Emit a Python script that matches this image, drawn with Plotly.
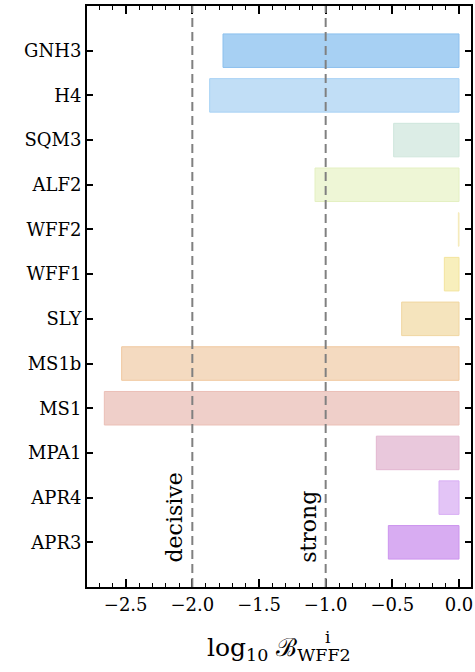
import plotly.graph_objects as go

# Equation-of-state models, listed bottom to top
models = ["APR3", "APR4", "MPA1", "MS1", "MS1b", "SLY",
          "WFF1", "WFF2", "ALF2", "SQM3", "H4", "GNH3"]
log_bayes = [-0.53, -0.15, -0.62, -2.66, -2.53, -0.43,
             -0.11, -0.005, -1.08, -0.49, -1.87, -1.77]
fills = ["#d8acf2", "#e3c4f6", "#e9c8dc", "#efcfc9", "#f4dac0", "#f5e4bd",
         "#f8efbc", "#fbf6d6", "#eef6d6", "#dcede6", "#c1def6", "#a7d0f3"]
edges = ["#cc94ee", "#d8aef4", "#e2b6d0", "#ebbfb6", "#f0c89e", "#f0d6a0",
         "#f3e49e", "#f5eab8", "#e4f0c2", "#cfe6dc", "#a8d2f5", "#8cc0ee"]

# Evidence thresholds (log10 Bayes factor)
thresholds = [-2.0, -1.0]
threshold_labels = ["decisive", "strong"]

FONT = "DejaVu Serif"
X_RANGE = [-2.79, 0.09]
Y_RANGE = [-1, 12]

fig = go.Figure()
fig.add_trace(go.Bar(
    x=log_bayes, y=list(range(len(models))), orientation="h",
    width=0.75,
    marker=dict(color=fills, line=dict(color=edges, width=1)),
    showlegend=False, hoverinfo="x+text", text=models, textposition="none",
))

for xv, lab in zip(thresholds, threshold_labels):
    fig.add_shape(type="line", x0=xv, x1=xv, y0=0, y1=1, yref="paper",
                  xref="x", line=dict(color="#808080", width=2, dash="9px,5px"),
                  layer="above")
    fig.add_annotation(x=xv, y=-0.5, xref="x", yref="y", text=lab,
                       textangle=-90, showarrow=False, xanchor="right",
                       yanchor="bottom", xshift=-3,
                       font=dict(family=FONT, size=22, color="black"))

# Axis label: log10 B with stacked superscript "i" and subscript "WFF2"
fig.add_annotation(x=0.5, y=0, xref="paper", yref="paper", yshift=-62,
                   text="log<sub>10</sub> \u212C<sub>WFF2</sub>", showarrow=False,
                   xanchor="center", yanchor="middle",
                   font=dict(family=FONT, size=25, color="black"))
fig.add_annotation(x=0.615, y=0, xref="paper", yref="paper", yshift=-50,
                   text="i", showarrow=False, xanchor="left", yanchor="middle",
                   font=dict(family=FONT, size=17, color="black"))

tick_font = dict(family=FONT, size=18, color="black")

fig.update_layout(
    width=475, height=672,
    margin=dict(l=87, r=2, t=6, b=85),
    plot_bgcolor="white", paper_bgcolor="white",
    xaxis=dict(
        range=X_RANGE, tickmode="linear", tick0=0, dtick=0.5, tickformat=".1f",
        ticks="inside", ticklen=8, tickwidth=1.5, tickcolor="#000000",
        showline=True, linecolor="black", linewidth=2, mirror="allticks",
        showgrid=False, zeroline=False, tickfont=tick_font,
        minor=dict(dtick=0.1, tick0=0, ticks="inside", ticklen=4,
                   tickcolor="#000000", tickwidth=1.2, showgrid=False),
    ),
    yaxis=dict(
        range=Y_RANGE, tickmode="array",
        tickvals=list(range(len(models))), ticktext=models,
        ticks="inside", ticklen=6, tickwidth=1.5, tickcolor="#000000",
        showline=True, linecolor="black", linewidth=2, mirror="allticks",
        showgrid=False, zeroline=False, tickfont=tick_font,
    ),
)

fig.write_html("out.html")
